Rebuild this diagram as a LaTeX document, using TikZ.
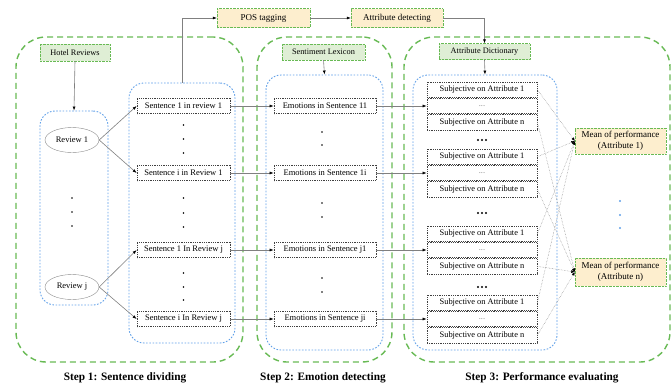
\documentclass[tikz,border=0pt]{standalone}
\usepackage{xcolor}
\usepackage{fontspec}
\setmainfont{Liberation Serif}
\usepackage{tikz}
\usetikzlibrary{arrows.meta,shapes.geometric}

\definecolor{zonegreen}{RGB}{104,186,84}
\definecolor{zoneblue}{RGB}{96,160,232}
\definecolor{srcfill}{RGB}{223,238,213}
\definecolor{procfill}{RGB}{253,238,206}

\tikzset{
  stepzone/.style={draw=zonegreen, line width=1.4pt, dash pattern=on 6pt off 4pt, rounded corners=30pt, inner sep=0pt},
  colzone/.style={draw=zoneblue, line width=0.9pt, dash pattern=on 1.6pt off 1.6pt, rounded corners=15pt, inner sep=0pt},
  srcbox/.style={draw=zonegreen, densely dotted, fill=srcfill, inner sep=0pt, font=\fontsize{8.3}{10}\selectfont},
  procbox/.style={draw=zonegreen, densely dotted, fill=procfill, inner sep=0pt, align=center, font=\fontsize{9}{10.5}\selectfont},
  itembox/.style={draw=black!75, densely dotted, thick, fill=white, inner sep=0pt, minimum width=93pt, minimum height=15pt, font=\fontsize{8.5}{10}\selectfont},
  revnode/.style={draw=black!45, ellipse, inner sep=0pt, minimum width=54pt, minimum height=25pt, font=\fontsize{8.5}{10}\selectfont},
  subrow/.style={draw=black!75, densely dotted, thick, inner sep=0pt, minimum width=110pt, minimum height=15.5pt, font=\fontsize{8.4}{10}\selectfont},
  arr/.style={draw=black!50, line width=0.6pt, -{Latex[length=4pt,width=3pt,black]}},
  meanarr/.style={draw=black!45, densely dotted, line width=0.5pt, -{Latex[length=3.5pt,width=3pt,black]}},
  vdot/.style={circle, fill=black, inner sep=0pt, minimum size=1.8pt},
  steplabel/.style={font=\fontsize{11.3}{13}\selectfont\bfseries}
}

\begin{document}
\begin{tikzpicture}[x=1pt,y=1pt,yscale=-1,xscale=1]
\useasboundingbox (0,0) rectangle (672,386);

% Step zones
\node[stepzone, minimum width=227pt, minimum height=325pt] (zone1) at (129.5,199.5) {};
\node[stepzone, minimum width=135pt, minimum height=325pt] (zone2) at (324.5,199.5) {};
\node[stepzone, minimum width=266pt, minimum height=325pt] (zone3) at (537,199.5) {};

% Column zones
\node[colzone, minimum width=68pt, minimum height=194pt] (revcol) at (74,208) {};
\node[colzone, minimum width=106pt, minimum height=260pt] (sentcol) at (182,213) {};
\node[colzone, minimum width=117pt, minimum height=275pt] (emocol) at (324.5,212.5) {};
\node[colzone, minimum width=144pt, minimum height=275pt] (subjcol) at (485,212.5) {};

% Top boxes
\node[procbox, minimum width=93pt, minimum height=19pt] (postag) at (263.5,18) {POS tagging};
\node[procbox, minimum width=92pt, minimum height=19pt] (attrdet) at (397,18) {Attribute detecting};
\node[srcbox, minimum width=70pt, minimum height=17pt] (hotel) at (75,52.5) {Hotel Reviews};
\node[srcbox, minimum width=83pt, minimum height=16pt] (lexicon) at (323.5,52) {Sentiment Lexicon};
\node[srcbox, minimum width=91pt, minimum height=16pt] (attrdict) at (484.5,51.5) {Attribute Dictionary};

%Straight Lines
\draw[arr] (sentcol.north) |- (postag.west);
\draw[arr] (postag.east) -- (attrdet.west);
\draw[arr] (attrdet.east) -| (attrdict.north);
\draw[arr] (attrdict.south) -- (subjcol.north);
\draw[arr] (hotel.south) -- (revcol.north);
\draw[arr] (lexicon.south) -- (emocol.north);

% Reviews
\node[revnode] (rev1) at (72,140) {Review 1};
\node[revnode] (revj) at (72,287) {Review j};
\foreach \y in {198,212,226} \node[vdot] at (72,\y) {};

% Sentences, emotions, subjective groups
\foreach \n/\y/\stxt/\etxt in {a/106/Sentence 1 in review 1/Emotions in Sentence 11,
                              b/173/Sentence i in Review 1/Emotions in Sentence 1i,
                              c/250/Sentence 1 In Review j/Emotions in Sentence j1,
                              d/319/Sentence i In Review j/Emotions in Sentence ji}{
  \node[itembox] (sent\n) at (183.5,\y) {\stxt};
  \node[itembox, minimum width=102pt] (emo\n) at (325,\y) {\etxt};
  \node[subrow] (sub\n m) at (482,\y) {\textcolor{black!50}{...}};
  \node[subrow, anchor=south] (sub\n a) at (sub\n m.north) {Subjective on Attribute 1};
  \node[subrow, anchor=north] (sub\n z) at (sub\n m.south) {Subjective on Attribute n};
  \draw[arr] (sent\n.east) -- (emo\n.west);
  \draw[arr] (emo\n.east) -- (sub\n m.west);
}

\draw[arr] (rev1.east) -- (senta.west);
\draw[arr] (rev1.east) -- (sentb.west);
\draw[arr] (revj.east) -- (sentc.west);
\draw[arr] (revj.east) -- (sentd.west);

% Dots between sentences and emotions
\foreach \y in {125,139,153,198,213,227,273,287,300} \node[vdot] at (183.5,\y) {};
\foreach \y in {132,145,203,217,278,292} \node[vdot] at (322,\y) {};
\foreach \y in {140,213,287} \foreach \dx in {-4,0,4} \node[vdot, minimum size=2.2pt] at (482+\dx,\y) {};

% Mean of performance
\node[procbox, minimum width=91pt, minimum height=26pt] (mean1) at (620.5,141) {Mean of performance\\(Attribute 1)};
\node[procbox, minimum width=91pt, minimum height=28pt] (meann) at (620.5,272) {Mean of performance\\(Attribute n)};
\foreach \y in {201,215,228} \node[vdot, fill=zoneblue, minimum size=2.4pt] at (620,\y) {};

\foreach \n in {a,b,c,d}{
  \draw[meanarr] (sub\n a.east) -- (mean1.west);
  \draw[meanarr] (sub\n z.east) -- (meann.west);
}

% Text Node
\node[steplabel] (lab1) at (125,378) {Step 1: Sentence dividing};
\node[steplabel] (lab2) at (323,378) {Step 2: Emotion detecting};
\node[steplabel] (lab3) at (542,378) {Step 3: Performance evaluating};

\end{tikzpicture}
\end{document}
